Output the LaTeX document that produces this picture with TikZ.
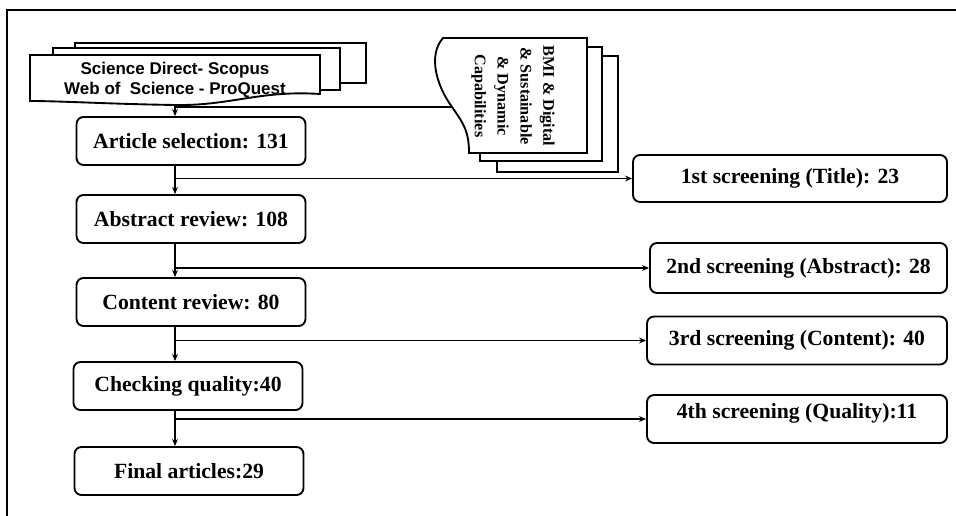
\documentclass[tikz,border=0pt]{standalone}
\usepackage{fontspec}
\setmainfont{Liberation Serif}
\newfontfamily\dbfont{Liberation Sans}
\usetikzlibrary{arrows.meta, positioning}

\begin{document}
\begin{tikzpicture}[x=0.03cm, y=-0.03cm,
    every node/.style={font=\fontsize{18.5}{20}\selectfont\bfseries},
    lb/.style={draw, line width=1.6pt, rounded corners=6pt, fill=white, minimum width=6.87cm, minimum height=1.44cm, inner sep=2pt},
    rb/.style={lb, minimum width=9cm},
    doc/.style={draw, line width=1.6pt, fill=white},
    a/.style={-{Stealth[length=6pt, width=5pt]}, line width=1.4pt},
    ln/.style={line width=1.4pt}
]
\useasboundingbox (0,0) rectangle (956,516);
% frame
\draw[line width=2.2pt] (7,516) -- (7,10) -- (956,10);

% database stack
\draw[doc] (75,43) rectangle (366,83);
\draw[doc] (53,48) rectangle (340,90);
\draw[doc] (30,55) -- (320,55) -- (320,94) .. controls (260,90) and (230,106) .. (175,105) .. controls (110,104) and (60,101) .. (30,101) -- cycle;
\node[font=\dbfont\fontsize{14.5}{17}\selectfont\bfseries, align=center] (db) at (175,80) {Science Direct- Scopus\\Web of~ Science - ProQuest};

% keyword stack
\draw[doc] (497,56) rectangle (618,172);
\draw[doc] (480,47) rectangle (602,161);
\draw[doc] (587,38) -- (443,38) .. controls (428,55) and (436,85) .. (452,107) .. controls (464,124) and (469,132) .. (469,153) -- (587,153) -- cycle;
\node[rotate=-90, align=center, font=\fontsize{13.8}{19.5}\selectfont\bfseries] (bmi) at (513,96) {BMI \& Digital\\\& Sustainable\\\& Dynamic\\Capabilities};

\coordinate (spine) at (175,0);
\coordinate (dbb) at (175,104);
\coordinate (bmiw) at (451,107);

% main steps
\node[lb] (art) at (191,141) {Article selection: 131};
\node[lb] (abs) at (191,219) {Abstract review: 108};
\node[lb] (con) at (191,302) {Content review: 80};
\node[lb] (chk) at (188,386) {Checking quality:40};
\node[lb] (fin) at (189,471) {Final articles:29};

% screenings
\node[rb, minimum width=9.42cm, minimum height=1.41cm] (s1) at (790,178.5) {1st screening (Title): 23};
\node[rb, minimum width=8.91cm, minimum height=1.5cm] (s2) at (798.5,268) {2nd screening (Abstract): 28};
\node[rb] (s3) at (797,340.5) {3rd screening (Content): 40};
\node[rb, text depth=14pt] (s4) at (797,419) {4th screening (Quality):11};

\draw[ln] (bmiw) -- (spine |- bmiw);
\draw[a] (dbb) -- (art.north -| spine);
\draw[a] (art.south -| spine) -- (abs.north -| spine);
\draw[a] (abs.south -| spine) -- (con.north -| spine);
\draw[a] (con.south -| spine) -- (chk.north -| spine);
\draw[a] (chk.south -| spine) -- (fin.north -| spine);
\draw[a] (spine |- s1.west) -- (s1.west);
\draw[a] (spine |- s2.west) -- (s2.west);
\draw[a] (spine |- s3.west) -- (s3.west);
\draw[a] (spine |- s4.west) -- (s4.west);
\end{tikzpicture}
\end{document}
